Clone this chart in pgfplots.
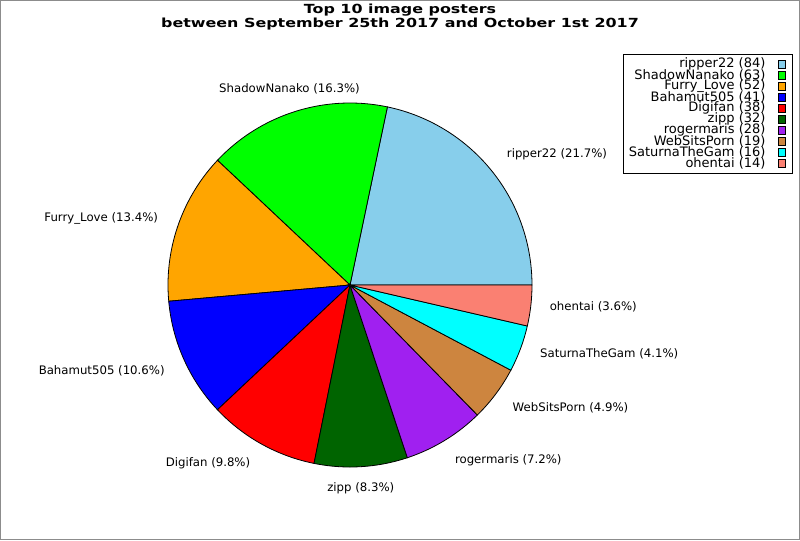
\documentclass[border=0pt]{standalone}
\usepackage{pgfplots}
\pgfplotsset{compat=1.18}
\usepackage{fontspec}
\setmainfont{DejaVu Sans}
\newfontfamily\titlefont[FakeStretch=1.27]{DejaVu Sans Bold}
\definecolor{c1}{HTML}{87CEEB}
\definecolor{c2}{HTML}{00FF00}
\definecolor{c3}{HTML}{FFA500}
\definecolor{c4}{HTML}{0000FF}
\definecolor{c5}{HTML}{FF0000}
\definecolor{c6}{HTML}{006400}
\definecolor{c7}{HTML}{A020F0}
\definecolor{c8}{HTML}{CD853F}
\definecolor{c9}{HTML}{00FFFF}
\definecolor{c10}{HTML}{FA8072}
\definecolor{frame}{RGB}{140,140,140}
% slice: start angle, end angle, colour (angles from counts / 387 * 360)
\newcommand{\slice}[3]{%
  \addplot[draw=black, line width=0.6pt, fill=#3, domain=#1:#2, samples=90, variable=\t]
    ({350+182*cos(\t)},{285-182*sin(\t)}) -- (axis cs:350,285) -- cycle;}
\newcommand{\labelfont}{\fontsize{8.8}{10}\selectfont}
\newcommand{\legfont}{\fontsize{9.75}{8.25}\selectfont}
% legend entry: centre y, text, colour
\newcommand{\legentry}[3]{%
  \node[anchor=east, inner sep=0pt, font=\legfont] at (axis cs:765.7,#1) {#2};
  \draw[black, line width=0.75pt, fill=#3] (axis cs:778.7,#1-4) rectangle (axis cs:785.3,#1+4);}
\begin{document}
\begin{tikzpicture}
\begin{axis}[hide axis, scale only axis, width=600pt, height=405pt,
  xmin=0, xmax=800, ymin=0, ymax=540, y dir=reverse, clip=false,
  at={(0,0)}, anchor=south west]
% counts: 84 63 52 41 38 32 28 19 16 14 (total 387)
\slice{0}{78.14}{c1}
\slice{78.14}{136.74}{c2}
\slice{136.74}{185.12}{c3}
\slice{185.12}{223.26}{c4}
\slice{223.26}{258.60}{c5}
\slice{258.60}{288.37}{c6}
\slice{288.37}{314.42}{c7}
\slice{314.42}{332.09}{c8}
\slice{332.09}{346.98}{c9}
\slice{346.98}{360}{c10}
% border
\draw[color=frame, line width=0.75pt] (axis cs:0.5,0.5) rectangle (axis cs:799.5,539.5);
% title
\node[anchor=base, inner sep=0pt, font=\titlefont\fontsize{9.4}{10}\selectfont] at (axis cs:400,13.7) {Top 10 image posters};
\node[anchor=base, inner sep=0pt, font=\titlefont\fontsize{9.4}{10}\selectfont] at (axis cs:400,27.7) {between September 25th 2017 and October 1st 2017};
% slice labels
\node[inner sep=0pt, font=\labelfont] at (axis cs:557,154) {ripper22 (21.7\%)};
\node[inner sep=0pt, font=\labelfont] at (axis cs:289.5,89) {ShadowNanako (16.3\%)};
\node[inner sep=0pt, font=\labelfont] at (axis cs:101.2,218.3) {Furry\_Love (13.4\%)};
\node[inner sep=0pt, font=\labelfont] at (axis cs:101.7,370.7) {Bahamut505 (10.6\%)};
\node[inner sep=0pt, font=\labelfont] at (axis cs:208,463.3) {Digifan (9.8\%)};
\node[inner sep=0pt, font=\labelfont] at (axis cs:360.8,488.3) {zipp (8.3\%)};
\node[inner sep=0pt, font=\labelfont] at (axis cs:508.3,460.7) {rogermaris (7.2\%)};
\node[inner sep=0pt, font=\labelfont] at (axis cs:570.5,408.3) {WebSitsPorn (4.9\%)};
\node[inner sep=0pt, font=\labelfont] at (axis cs:609.2,354.3) {SaturnaTheGam (4.1\%)};
\node[inner sep=0pt, font=\labelfont] at (axis cs:593.3,306.7) {ohentai (3.6\%)};
% legend
\draw[black, line width=0.75pt, fill=white] (axis cs:623.5,54.5) rectangle (axis cs:792.5,173.5);
\legentry{64.2}{ripper22 (84)}{c1}
\legentry{75.23}{ShadowNanako (63)}{c2}
\legentry{86.26}{Furry\_Love (52)}{c3}
\legentry{97.29}{Bahamut505 (41)}{c4}
\legentry{108.32}{Digifan (38)}{c5}
\legentry{119.35}{zipp (32)}{c6}
\legentry{130.38}{rogermaris (28)}{c7}
\legentry{141.41}{WebSitsPorn (19)}{c8}
\legentry{152.44}{SaturnaTheGam (16)}{c9}
\legentry{163.47}{ohentai (14)}{c10}
\end{axis}
\end{tikzpicture}
\end{document}
